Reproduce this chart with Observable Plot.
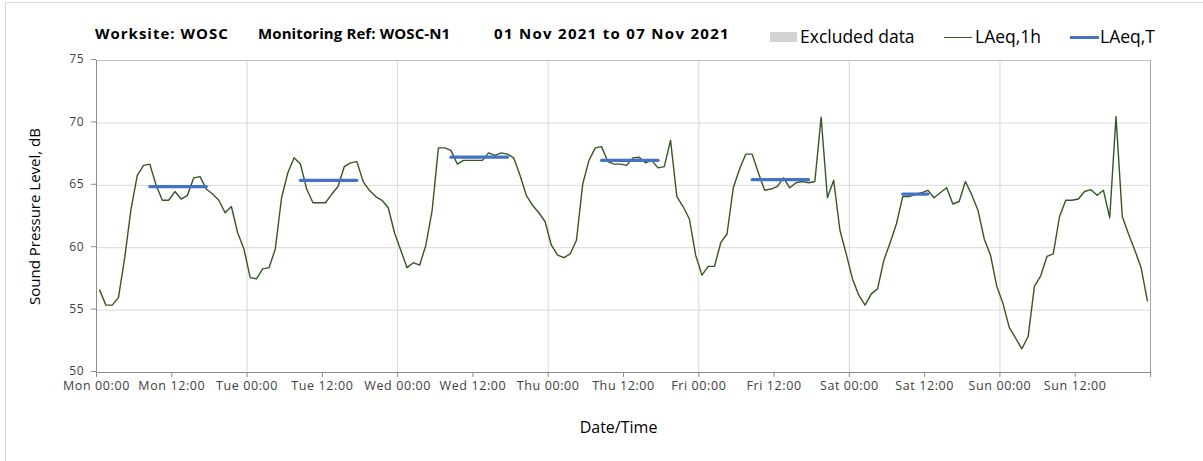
<!DOCTYPE html>
<html>
<head>
<meta charset="utf-8">
<script src="https://cdn.jsdelivr.net/npm/d3@7"></script>
<script src="https://cdn.jsdelivr.net/npm/@observablehq/plot@0.6"></script>
<style>
  html, body { margin: 0; padding: 0; background: #fff; }
  #wrap { position: relative; width: 1203px; height: 461px; overflow: hidden; font-family: "Open Sans", "Noto Sans", sans-serif; }
  #border { position: absolute; left: 5px; top: 2px; width: 1300px; height: 600px; border: 1px solid #d9d9d9; box-sizing: border-box; }
  #header { position: relative; height: 50px; }
  .t { position: absolute; top: 23px; font-weight: bold; font-size: 15px; color: #000; white-space: nowrap; font-family: "Open Sans", sans-serif; }
  .lg { position: absolute; top: 24px; font-size: 17.5px; color: #000; white-space: nowrap; font-family: "Open Sans", sans-serif; }
  .sw { position: absolute; }
  #chart { position: relative; }
  g[aria-label="x-axis tick label"] text { letter-spacing: 0.6px; }
  g[aria-label="y-axis tick label"] text { letter-spacing: 0.8px; }
</style>
</head>
<body>
<div id="wrap">
  <div id="border"></div>
  <div id="header"></div>
  <div id="chart"></div>
</div>
<script>
// ---- Data ----
const titleParts = ["Worksite: WOSC", "Monitoring Ref: WOSC-N1", "01 Nov 2021 to 07 Nov 2021"];
const legendLabels = ["Excluded data", "LAeq,1h", "LAeq,T"];
const tickLabels = ["Mon 00:00","Mon 12:00","Tue 00:00","Tue 12:00","Wed 00:00","Wed 12:00","Thu 00:00","Thu 12:00","Fri 00:00","Fri 12:00","Sat 00:00","Sat 12:00","Sun 00:00","Sun 12:00",""];
const yTicks = [50, 55, 60, 65, 70, 75];
const yLabel = "Sound Pressure Level, dB";
const xLabel = "Date/Time";

// Hourly LAeq,1h values from Mon 01 Nov 2021 00:00 (168 hours)
const laeq1h = [
  56.6, 55.4, 55.4, 56.0, 59.2, 63.1, 65.8, 66.6, 66.7, 65.0, 63.8, 63.8, 64.5, 63.9, 64.2, 65.6, 65.7, 64.7, 64.3, 63.8, 62.8, 63.3, 61.2, 59.9,
  57.6, 57.5, 58.3, 58.4, 59.9, 64.0, 66.0, 67.2, 66.7, 64.7, 63.6, 63.6, 63.6, 64.3, 64.9, 66.5, 66.8, 66.9, 65.3, 64.6, 64.1, 63.8, 63.2, 61.2,
  59.8, 58.4, 58.8, 58.6, 60.2, 63.0, 68.0, 68.0, 67.8, 66.7, 67.0, 67.0, 67.0, 67.0, 67.6, 67.4, 67.6, 67.5, 67.2, 65.8, 64.2, 63.4, 62.8, 62.1,
  60.2, 59.4, 59.2, 59.5, 60.6, 65.1, 67.0, 68.0, 68.1, 66.9, 66.7, 66.7, 66.6, 67.2, 67.25, 66.8, 67.0, 66.4, 66.5, 68.6, 64.1, 63.3, 62.3, 59.4,
  57.8, 58.5, 58.5, 60.4, 61.1, 64.8, 66.3, 67.5, 67.5, 66.0, 64.6, 64.7, 64.9, 65.6, 64.8, 65.2, 65.3, 65.2, 65.3, 70.45, 64.0, 65.4, 61.4, 59.5,
  57.5, 56.2, 55.4, 56.3, 56.7, 59.0, 60.4, 61.9, 64.1, 64.1, 64.25, 64.4, 64.6, 64.0, 64.4, 64.8, 63.5, 63.7, 65.3, 64.25, 63.0, 60.7, 59.4, 56.9,
  55.5, 53.6, 52.75, 51.9, 52.9, 56.9, 57.75, 59.3, 59.5, 62.5, 63.8, 63.8, 63.9, 64.5, 64.65, 64.2, 64.6, 62.4, 70.5, 62.5, 61.1, 59.8, 58.4, 55.75
];

// LAeq,T daytime periods: first and last hour index and level
const periodStart = [8, 32, 56, 80, 104, 128];
const periodEnd   = [17, 41, 65, 89, 113, 132];
const periodLevel = [64.9, 65.4, 67.25, 67.0, 65.45, 64.3];

// ---- Build tables ----
const t0 = Date.UTC(2021, 10, 1);
const hourDate = (h) => new Date(t0 + h * 3600e3);
const series = laeq1h.map((v, i) => ({date: hourDate(i + 0.5), value: v}));
const periods = [];
periodStart.forEach((s, k) => {
  periods.push({date: hourDate(s + 0.5), value: periodLevel[k], k});
  periods.push({date: hourDate(periodEnd[k] + 0.5), value: periodLevel[k], k});
});
const xTicks = d3.range(0, 15).map(j => hourDate(j * 12));
const dayLines = d3.range(1, 7).map(j => hourDate(j * 24));
const xStart = hourDate(0), xEnd = hourDate(168);

// ---- Header (title + legend) ----
const header = document.getElementById("header");
const titleX = [95, 258, 494];
const titleSpacing = [1, 0.1, 1.3];
titleParts.forEach((t, k) => {
  const s = document.createElement("span");
  s.className = "t"; s.style.left = titleX[k] + "px"; s.style.letterSpacing = titleSpacing[k] + "px"; s.textContent = t;
  header.appendChild(s);
});
function sw(left, top, w, h, color) {
  const d = document.createElement("div");
  d.className = "sw";
  Object.assign(d.style, {left: left + "px", top: top + "px", width: w + "px", height: h + "px", background: color});
  header.appendChild(d);
}
sw(770, 32, 27, 10, "#d3d3d3");
sw(944, 36.5, 28, 1.5, "#375623");
sw(1070, 35.5, 29, 3, "#4472c4");
const legX = [800, 975, 1100];
legendLabels.forEach((t, k) => {
  const s = document.createElement("span");
  s.className = "lg"; s.style.left = legX[k] + "px"; s.textContent = t;
  header.appendChild(s);
});

// ---- Plot ----
const chart = Plot.plot({
  width: 1203,
  height: 411,
  marginTop: 10,
  marginBottom: 89,
  marginLeft: 96,
  marginRight: 53,
  style: {fontFamily: "'Open Sans', 'Noto Sans', sans-serif", fontSize: "12.5px", color: "#404040", background: "transparent", overflow: "visible"},
  x: {type: "utc", domain: [xStart, xEnd]},
  y: {domain: [50, 75]},
  marks: [
    Plot.ruleY([55, 60, 65, 70], {stroke: "#d9d9d9", strokeWidth: 1}),
    Plot.ruleX(dayLines, {stroke: "#d9d9d9", strokeWidth: 1}),
    Plot.ruleY([75], {stroke: "#bfbfbf", strokeWidth: 1}),
    Plot.ruleX([xEnd], {stroke: "#a6a6a6", strokeWidth: 1}),
    Plot.ruleX([xStart], {stroke: "#8c8c8c", strokeWidth: 1}),
    Plot.ruleY([50], {stroke: "#8c8c8c", strokeWidth: 1.2}),
    Plot.axisX({ticks: xTicks, tickSize: 5, tickPadding: 4, stroke: "#8c8c8c",
      tickFormat: (d) => tickLabels[Math.round((d - t0) / (12 * 3600e3))], label: null,
      fill: "#404040", fontSize: 12.5}),
    Plot.axisY({ticks: yTicks, tickSize: 5, tickPadding: 7, stroke: "#8c8c8c", label: null,
      fill: "#404040", fontSize: 12, dy: -1}),
    Plot.line(series, {x: "date", y: "value", stroke: "#375623", strokeWidth: 1.4}),
    Plot.line(periods, {x: "date", y: "value", z: "k", stroke: "#4472c4", strokeWidth: 3.2}),
    Plot.text([xLabel], {frameAnchor: "bottom", dx: -5, dy: 60, fontSize: 16, fill: "#000", lineAnchor: "bottom"}),
    Plot.text([yLabel], {frameAnchor: "left", dx: -61, rotate: -90, textAnchor: "middle", fontSize: 15, fill: "#000"})
  ]
});
document.getElementById("chart").appendChild(chart);
</script>
</body>
</html>
